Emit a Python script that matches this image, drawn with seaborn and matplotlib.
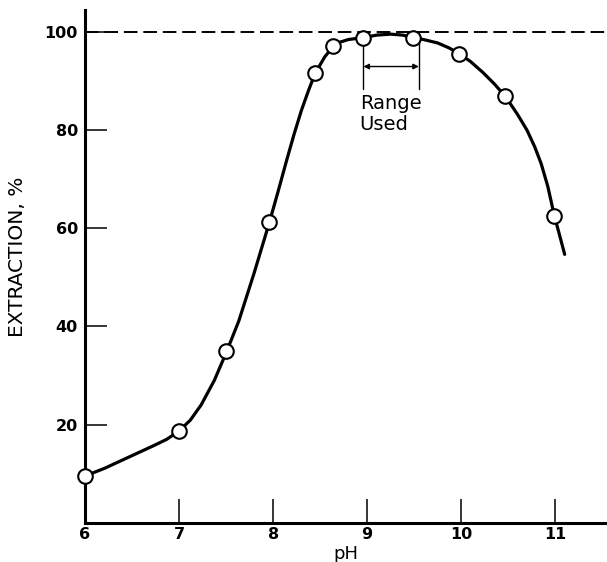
import matplotlib
matplotlib.use("Agg")
import matplotlib.pyplot as plt
import seaborn as sns

# === Data ===
ph_points = [6.0, 7.0, 7.5, 7.96, 8.45, 8.64, 8.96, 9.49, 9.98, 10.47, 10.99]
extraction_points = [9.5, 18.6, 35.0, 61.2, 91.7, 97.1, 98.9, 98.9, 95.6, 86.9, 62.6]

# hand-drawn smooth curve
curve_ph = [6.0, 6.21, 6.47, 6.73, 6.87, 7.0, 7.12, 7.235, 7.375, 7.5, 7.635,
            7.8, 7.96, 8.05, 8.14, 8.22, 8.30, 8.38, 8.45, 8.55, 8.64, 8.7,
            8.8, 8.96, 9.1, 9.25, 9.38, 9.49, 9.6, 9.75, 9.87, 9.98, 10.1,
            10.23, 10.35, 10.47, 10.6, 10.7, 10.78, 10.85, 10.92, 10.99,
            11.05, 11.1]
curve_extraction = [9.5, 11.1, 13.4, 15.7, 17.0, 18.7, 20.9, 24.0, 29.0, 34.6,
                    41.1, 51.0, 61.2, 67.3, 73.6, 79.0, 84.0, 88.3, 91.7, 95.0,
                    97.1, 97.9, 98.5, 98.9, 99.4, 99.6, 99.4, 98.9, 98.5, 97.8,
                    96.8, 95.6, 94.0, 91.8, 89.5, 86.9, 83.2, 80.0, 76.7, 73.2,
                    68.6, 62.6, 58.3, 54.7]

x_ticks = [6, 7, 8, 9, 10, 11]
y_ticks = [20, 40, 60, 80, 100]
range_used = [8.96, 9.55]

# === Style ===
sns.set_style("white", rc={'xtick.bottom': True, 'ytick.left': True})
plt.rcParams['font.family'] = ['DejaVu Sans']
plt.rcParams['text.color'] = 'black'
plt.rcParams['axes.labelcolor'] = 'black'
plt.rcParams['xtick.color'] = 'black'
plt.rcParams['ytick.color'] = 'black'

fig = plt.figure(figsize=(6.07, 5.62), dpi=100)
ax = fig.add_axes([0.140, 0.070, 0.860, 0.912])

# 100% reference line
ax.axhline(100, color='black', lw=1.4, ls=(0, (7, 3)), zorder=1)

sns.lineplot(x=curve_ph, y=curve_extraction, ax=ax, color='black',
             lw=2.3, sort=False, estimator=None, zorder=2)
for ln in ax.lines[1:]:
    ln.set_solid_joinstyle('round')
    ln.set_solid_capstyle('round')
sns.scatterplot(x=ph_points, y=extraction_points, ax=ax, s=110, color='white',
                edgecolor='black', linewidth=1.5, zorder=3, clip_on=False)

# === "Range Used" annotation ===
for xv in range_used:
    ax.plot([xv, xv], [88.4, 98.5], color='black', lw=1.0, zorder=1)
ax.annotate('', xy=(range_used[0], 93.0), xytext=(range_used[1], 93.0),
            arrowprops=dict(arrowstyle='<|-|>', color='black', lw=1.0,
                            mutation_scale=8, shrinkA=0, shrinkB=0))
ax.text(range_used[0] - 0.04, 87.4, 'Range\nUsed', fontsize=14,
        ha='left', va='top', linespacing=1.15)

# === Axes ===
ax.set_xlim(6, 11.55)
ax.set_ylim(0, 104.5)
ax.set_xticks(x_ticks)
ax.set_yticks(y_ticks)
ax.tick_params(axis='x', direction='in', length=17, width=1.1, pad=3,
               labelsize=11.5)
ax.tick_params(axis='y', direction='in', length=16, width=1.1, pad=5,
               labelsize=11.5)
for lab in ax.get_xticklabels() + ax.get_yticklabels():
    lab.set_fontweight('bold')

for side in ['top', 'right']:
    ax.spines[side].set_visible(False)
for side in ['left', 'bottom']:
    ax.spines[side].set_linewidth(2.2)
    ax.spines[side].set_color('black')

ax.set_xlabel('pH', fontsize=13)
ax.set_ylabel('EXTRACTION, %', fontsize=14.5)
ax.xaxis.set_label_coords(0.5, -0.044)
ax.yaxis.set_label_coords(-0.111, 0.519)

fig.savefig('out.png', dpi=100)
